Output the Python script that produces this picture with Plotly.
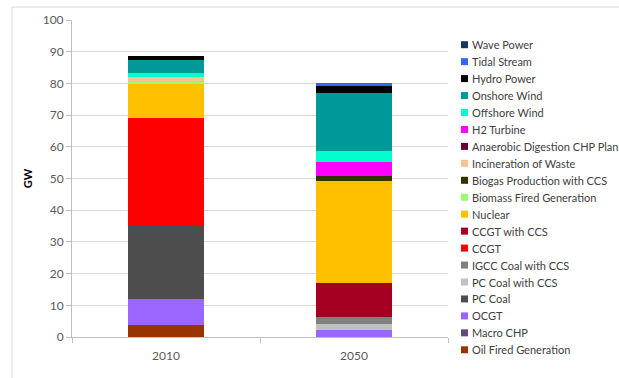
import plotly.graph_objects as go

years = ["2010", "2050"]

# series listed bottom of stack first
series = [
    "Oil Fired Generation", "Macro CHP", "OCGT", "PC Coal", "PC Coal with CCS",
    "IGCC Coal with CCS", "CCGT", "CCGT with CCS", "Nuclear", "Biomass Fired Generation",
    "Biogas Production with CCS", "Incineration of Waste", "Anaerobic Digestion CHP Plan",
    "H2 Turbine", "Offshore Wind", "Onshore Wind", "Hydro Power", "Tidal Stream", "Wave Power",
]
colors = [
    "#993300", "#604A7B", "#9966FF", "#4D4D4D", "#C0C0C0",
    "#808080", "#FF0000", "#A50021", "#FFC000", "#99FF66",
    "#333300", "#FAC090", "#660033",
    "#FF00FF", "#00FFCC", "#009999", "#000000", "#3366FF", "#17375E",
]
values_2010 = [3.8, 0, 8.2, 23.0, 0, 0, 34.2, 0, 10.8, 0.5, 0, 1.4, 0, 0, 1.3, 4.2, 1.3, 0, 0]
values_2050 = [0, 0, 2.1, 0, 2.0, 2.1, 0, 10.7, 32.4, 0, 1.5, 0, 0, 4.5, 3.4, 18.2, 2.4, 0.9, 0]

yticks = [0, 10, 20, 30, 40, 50, 60, 70, 80, 90, 100]

W, H = 619, 378
ML, MR, MT, MB = 72, 171, 20, 41
PW, PH = W - ML - MR, H - MT - MB

def px(x):
    return (x - ML) / PW

def py(y):
    return (H - MB - y) / PH

fig = go.Figure()
for name, col, v1, v2 in zip(series, colors, values_2010, values_2050):
    fig.add_trace(go.Bar(
        x=years, y=[v1, v2], name=name,
        marker=dict(color=col, line=dict(width=0)),
        showlegend=False,
    ))

shapes = []
annotations = []
# manual legend (top: last series)
for i, (name, col) in enumerate(zip(reversed(series), reversed(colors))):
    cy = 44.7 + 16.95 * i
    shapes.append(dict(type="rect", xref="paper", yref="paper",
                       x0=px(461), x1=px(468), y0=py(cy + 3.5), y1=py(cy - 3.5),
                       fillcolor=col, line=dict(width=0)))
    annotations.append(dict(xref="paper", yref="paper", x=px(470), y=py(cy),
                            xanchor="left", yanchor="middle", showarrow=False,
                            text=name, font=dict(family="Lato", size=11, color="#404040")))

# outer chart frame
shapes.append(dict(type="rect", xref="paper", yref="paper",
                   x0=px(12), x1=px(640), y0=py(400), y1=py(7),
                   line=dict(color="#D9D9D9", width=1), fillcolor="rgba(0,0,0,0)", layer="below"))

fig.update_layout(
    width=W, height=H,
    margin=dict(l=ML, r=MR, t=MT, b=MB),
    barmode="stack", bargap=0.6,
    paper_bgcolor="white", plot_bgcolor="white",
    font=dict(family="Lato", size=12, color="#595959"),
    shapes=shapes, annotations=annotations,
    xaxis=dict(
        type="category", tickson="boundaries", ticks="outside", ticklen=5,
        tickcolor="#BFBFBF", showline=True, linecolor="#BFBFBF", linewidth=1,
        showgrid=False, tickfont=dict(size=12, color="#595959"), ticklabelstandoff=8,
    ),
    yaxis=dict(
        range=[0, 100], tickvals=yticks, ticks="outside", ticklen=5,
        tickcolor="#BFBFBF", showline=True, linecolor="#BFBFBF", linewidth=1,
        gridcolor="#D9D9D9", gridwidth=1, zeroline=False,
        tickfont=dict(size=12, color="#595959"),
        title=dict(text="<b>GW</b>", font=dict(size=11, color="#000000"), standoff=7),
    ),
)

fig.write_html("out.html")
